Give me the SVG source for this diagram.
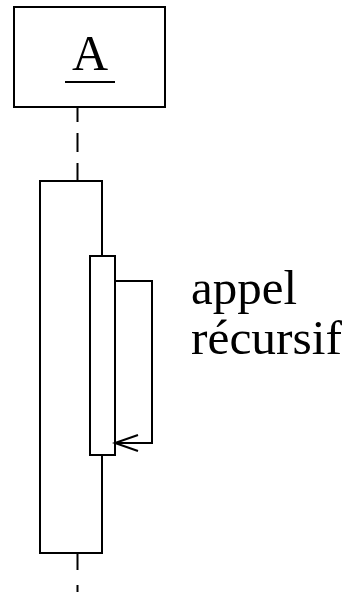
<svg xmlns="http://www.w3.org/2000/svg" width="352" height="592" viewBox="0 0 352 592">
<style>
.b{fill:#fff;stroke:#000;stroke-width:2}
.l{fill:none;stroke:#000;stroke-width:2}
.t{font-family:"Liberation Serif",serif;fill:#000}
</style>
<rect width="352" height="592" fill="#fff"/>
<g id="connectors">
<line class="l" x1="77.5" y1="107" x2="77.5" y2="181" stroke-dasharray="15 11 19 11 19 11"/>
<line class="l" x1="77.5" y1="553" x2="77.5" y2="592" stroke-dasharray="17 15 20"/>
</g>
<g id="A">
<rect class="b" x="14" y="7" width="151" height="100"/>
<text class="t" x="90" y="70" font-size="50" text-anchor="middle">A</text>
<line class="l" x1="65" y1="82" x2="115" y2="82"/>
</g>
<g id="activation">
<rect class="b" x="40" y="181" width="62" height="372"/>
</g>
<g id="activation2">
<rect class="b" x="90" y="256" width="25" height="199"/>
</g>
<g id="recursion">
<polyline class="l" points="115,281 152,281 152,443 115,443"/>
<polyline class="l" points="138,435 115,443 138,451"/>
<text class="t" font-size="48"><tspan x="191" y="304" textLength="106" lengthAdjust="spacingAndGlyphs">appel</tspan><tspan x="191" y="354" textLength="151" lengthAdjust="spacingAndGlyphs">récursif</tspan></text>
</g>
</svg>
